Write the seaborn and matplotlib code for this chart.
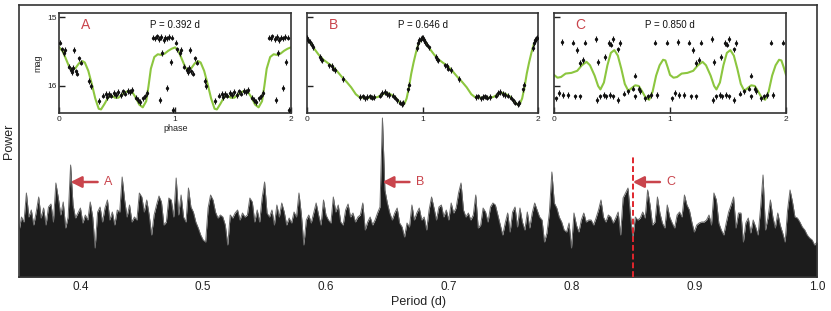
import numpy as np
import pandas as pd
import matplotlib
matplotlib.use("Agg")
import matplotlib.pyplot as plt
import seaborn as sns

sns.set_theme(style="white")
plt.rcParams["font.family"] = ["Liberation Sans", "DejaVu Sans"]

# ---------------- periodogram (power in arbitrary units) ----------------
period_start = 0.35
period_step = 0.002
power_seg1 = [46, 60, 55, 84, 60, 67, 52, 65, 80, 59, 69, 52, 70, 73, 55, 94, 79, 62, 75, 49,
              60, 112, 72, 59, 64, 69, 54, 62, 57, 75, 60, 29, 65, 70, 55, 69, 77, 57, 65, 52,
              67, 65, 100, 77, 60, 72, 55]
power_seg2 = [60, 57, 84, 80, 65, 77, 62, 42, 62, 72, 81, 75, 52, 55, 79, 77, 60, 99, 62, 82,
              60, 55, 89, 70, 65, 55, 49, 42, 37, 35, 69, 82, 77, 65, 59, 62, 60, 52, 32, 62,
              59, 64, 67, 57, 64, 60, 62]
power_seg3 = [79, 75, 55, 67, 55, 79, 95, 64, 60, 67, 52, 72, 60, 74, 65, 52, 59, 54, 65, 60,
              84, 62, 32, 57, 62, 54, 64, 74, 62, 52, 77, 62, 57, 54, 80, 65, 72, 55, 52, 67,
              73, 60, 64, 55, 60, 62]
power_seg4 = [74, 47, 55, 60, 52, 57, 64, 70, 159, 87, 74, 64, 57, 64, 69, 54, 50, 40, 54, 50,
              72, 57, 64, 69, 57, 60, 47, 67, 80, 69, 57, 70, 72, 60, 67, 57, 74, 64, 69, 84,
              94, 67, 60, 64, 57, 62, 82]
power_seg5 = [49, 52, 69, 65, 55, 70, 74, 72, 62, 52, 42, 54, 64, 45, 65, 70, 50, 69, 55, 47,
              65, 49, 64, 74, 67, 60, 57, 35, 44, 65, 105, 74, 69, 60, 55, 47, 45, 54, 29, 64,
              52, 45, 57, 64, 55, 57]
power_seg6 = [57, 52, 59, 67, 77, 60, 55, 62, 60, 54, 59, 65, 42, 79, 84, 89, 62, 39, 60, 57,
              59, 65, 59, 87, 72, 52, 55, 80, 64, 54, 49, 72, 60, 54, 49, 62, 65, 60, 82, 72,
              67, 55, 45, 52, 54, 55]
power_seg7 = [55, 57, 62, 52, 84, 77, 54, 47, 42, 54, 65, 72, 80, 49, 64, 64, 35, 54, 59, 44,
              57, 50, 42, 69, 102, 47, 59, 77, 60, 49, 64, 52, 44, 35, 67, 87, 75, 60, 59, 55,
              50, 47, 42, 39, 37, 32, 35]
power = (power_seg1 + power_seg2 + power_seg3 + power_seg4 + power_seg5
         + power_seg6 + power_seg7)
period = np.round(period_start + period_step * np.arange(len(power)), 3)

x_ticks = [0.4, 0.5, 0.6, 0.7, 0.8, 0.9, 1.0]
x_ticklabels = ["0.4", "0.5", "0.6", "0.7", "0.8", "0.9", "1.0"]

marked_periods = [0.392, 0.646, 0.850]
marked_labels = ["A", "B", "C"]
marked_titles = ["P = 0.392 d", "P = 0.646 d", "P = 0.850 d"]

# ---------------- folded light curves (phase 0-1, shown twice) ----------------
a_phase = [0.01, 0.02, 0.04, 0.05, 0.08, 0.10, 0.11, 0.12, 0.13, 0.14, 0.15, 0.17, 0.19,
           0.26, 0.27, 0.34, 0.38, 0.40, 0.41, 0.43, 0.45, 0.47, 0.49, 0.51, 0.53, 0.55,
           0.57, 0.59, 0.61, 0.63, 0.66, 0.68, 0.70, 0.72, 0.74, 0.76, 0.81, 0.83, 0.84,
           0.86, 0.87, 0.88, 0.89, 0.90, 0.91, 0.93, 0.93, 0.95, 0.96, 0.97, 0.985]
a_mag = [15.37, 15.47, 15.52, 15.48, 15.72, 15.77, 15.80, 15.74, 15.48, 15.79, 15.82, 15.60,
         15.66, 15.93, 16.00, 16.22, 16.14, 16.11, 16.16, 16.12, 16.14, 16.10, 16.13, 16.09,
         16.13, 16.08, 16.11, 16.07, 16.09, 16.06, 16.17, 16.20, 16.23, 16.18, 16.15, 16.10,
         15.30, 15.31, 15.28, 15.32, 16.20, 15.29, 15.52, 15.33, 15.30, 15.31, 16.03, 15.29,
         15.65, 15.30, 16.35]
a_fit_phase = [0.00, 0.03, 0.06, 0.09, 0.11, 0.14, 0.17, 0.20, 0.22, 0.25, 0.28, 0.31, 0.34,
               0.36, 0.39, 0.42, 0.45, 0.48, 0.51, 0.54, 0.57, 0.60, 0.63, 0.66, 0.69, 0.72,
               0.75, 0.77, 0.79, 0.82, 0.85, 0.88, 0.91, 0.94, 0.97, 1.00]
a_fit_mag = [15.44, 15.50, 15.62, 15.74, 15.77, 15.74, 15.67, 15.64, 15.66, 15.78, 15.97,
             16.18, 16.33, 16.34, 16.26, 16.17, 16.14, 16.17, 16.17, 16.13, 16.09, 16.07,
             16.09, 16.17, 16.27, 16.31, 16.22, 16.00, 15.75, 15.58, 15.54, 15.55, 15.53,
             15.49, 15.46, 15.44]

b_phase = [0.00, 0.01, 0.02, 0.04, 0.05, 0.11, 0.12, 0.13, 0.19, 0.21, 0.22, 0.24, 0.31,
           0.46, 0.48, 0.50, 0.52, 0.54, 0.56, 0.58, 0.63, 0.65, 0.67, 0.69, 0.71, 0.74,
           0.76, 0.78, 0.80, 0.82, 0.83, 0.87, 0.88, 0.95, 0.96, 0.97, 0.98, 0.99]
b_mag = [15.30, 15.34, 15.36, 15.40, 15.44, 15.58, 15.61, 15.63, 15.70, 15.71, 15.75, 15.77,
         15.90, 16.16, 16.15, 16.18, 16.16, 16.15, 16.17, 16.16, 16.14, 16.10, 16.09, 16.12,
         16.13, 16.14, 16.17, 16.21, 16.24, 16.26, 16.25, 16.05, 15.98, 15.45, 15.38, 15.33,
         15.32, 15.30]
b_fit_phase = [0.00, 0.03, 0.06, 0.10, 0.14, 0.18, 0.22, 0.26, 0.30, 0.34, 0.38, 0.42, 0.45,
               0.49, 0.53, 0.57, 0.61, 0.65, 0.69, 0.72, 0.76, 0.79, 0.82, 0.84, 0.86, 0.88,
               0.90, 0.92, 0.94, 0.96, 0.98, 1.00]
b_fit_mag = [15.31, 15.38, 15.46, 15.55, 15.62, 15.67, 15.72, 15.79, 15.87, 15.94, 16.02,
             16.12, 16.16, 16.17, 16.17, 16.17, 16.16, 16.12, 16.10, 16.12, 16.16, 16.22,
             16.27, 16.26, 16.18, 16.02, 15.82, 15.66, 15.52, 15.40, 15.33, 15.31]

c_phase = [0.066, 0.16, 0.267, 0.195, 0.36, 0.47, 0.49, 0.51, 0.57, 0.38, 0.44, 0.22, 0.04,
           0.08, 0.12, 0.18, 0.22, 0.02, 0.37, 0.40, 0.43, 0.45, 0.48, 0.51, 0.55, 0.60,
           0.64, 0.68, 0.70, 0.74, 0.78, 0.81, 0.84, 0.885, 0.70, 0.87, 0.977, 0.55, 0.25,
           0.73]
c_mag = [15.36, 15.37, 15.37, 15.48, 15.32, 15.38, 15.40, 15.32, 15.38, 15.65, 15.58, 15.67,
         16.10, 16.13, 16.13, 16.15, 16.15, 16.18, 16.20, 16.15, 16.13, 16.15, 16.13, 16.15,
         16.20, 16.11, 16.08, 16.04, 16.15, 16.08, 16.18, 16.15, 16.13, 16.13, 15.85, 15.37,
         15.37, 15.47, 15.62, 16.04]
c_fit_phase = [0.00, 0.03, 0.06, 0.10, 0.15, 0.20, 0.24, 0.28, 0.31, 0.35, 0.38, 0.40, 0.43,
               0.46, 0.49, 0.52, 0.55, 0.58, 0.61, 0.64, 0.67, 0.70, 0.73, 0.76, 0.79, 0.82,
               0.85, 0.88, 0.91, 0.94, 0.96, 0.98, 1.00]
c_fit_mag = [15.84, 15.88, 15.87, 15.82, 15.81, 15.78, 15.70, 15.65, 15.70, 15.85, 16.00,
             16.05, 15.95, 15.70, 15.52, 15.48, 15.56, 15.75, 15.97, 16.07, 16.03, 15.99,
             16.00, 16.08, 16.17, 16.20, 16.08, 15.85, 15.70, 15.62, 15.63, 15.73, 15.84]

RED = "#c9444c"
RED_LINE = "#e0262d"
GREEN = "#8cc63f"
DARK = "#1c1c1c"

fig = plt.figure(figsize=(8.31, 3.11), dpi=100)

# ---------------- main periodogram ----------------
ax = fig.add_axes([0.0229, 0.1093, 0.9603, 0.8746])
df = pd.DataFrame({"period": period, "power": power})
ax.fill_between(df["period"], 0, df["power"], color=DARK, lw=0, zorder=1)
sns.lineplot(data=df, x="period", y="power", ax=ax, color="#6a6a6a", lw=0.7, zorder=2)
ax.set_xlim(0.35, 1.0)
ax.set_ylim(0, 272)
ax.set_yticks([])
ax.set_xticks(x_ticks)
ax.set_xticklabels(x_ticklabels)
ax.tick_params(axis="x", length=0, labelsize=8.5, pad=3, colors="#222222")
ax.set_xlabel("Period (d)", fontsize=9, labelpad=2, color="#222222")
ax.set_ylabel("Power", fontsize=9, labelpad=3, color="#222222")
for s in ax.spines.values():
    s.set_visible(True)
    s.set_color("#333333")
    s.set_linewidth(1.2)

arrow_y = 95
for p, lab in zip(marked_periods, marked_labels):
    ax.annotate("", xy=(p, arrow_y), xytext=(p + 0.022, arrow_y),
                arrowprops=dict(arrowstyle="-|>,head_length=0.55,head_width=0.28",
                                color=RED, lw=1.8, shrinkA=0, shrinkB=0), zorder=5)
    ax.text(p + 0.031, arrow_y, lab, color=RED, fontsize=9, ha="center", va="center")

ax.plot([marked_periods[2], marked_periods[2]], [0, 122], color=RED_LINE, lw=1.4,
        ls=(0, (3, 1.5)), zorder=4)

# ---------------- insets ----------------
inset_rects = [[0.0714, 0.6357, 0.2788, 0.3225],
               [0.3698, 0.6357, 0.2780, 0.3225],
               [0.6667, 0.6357, 0.2792, 0.3225]]
curves = [(a_phase, a_mag, a_fit_phase, a_fit_mag),
          (b_phase, b_mag, b_fit_phase, b_fit_mag),
          (c_phase, c_mag, c_fit_phase, c_fit_mag)]

for idx, (rect, (ph, mg, fph, fmg)) in enumerate(zip(inset_rects, curves)):
    iax = fig.add_axes(rect)
    iax.set_facecolor("white")
    fit_df = pd.DataFrame({"phase": list(fph) + [p + 1 for p in fph[1:]],
                           "mag": list(fmg) + list(fmg[1:])})
    pts_df = pd.DataFrame({"phase": list(ph) + [p + 1 for p in ph],
                           "mag": list(mg) + list(mg)})
    sns.lineplot(data=fit_df, x="phase", y="mag", ax=iax, color=GREEN, lw=1.5,
                 sort=False, zorder=2)
    iax.errorbar(pts_df["phase"], pts_df["mag"], yerr=0.04, fmt="o", ms=1.4,
                 color="#111111", elinewidth=0.8, capsize=0, zorder=3)
    iax.set_xlim(0, 2)
    iax.set_ylim(16.396, 14.942)
    iax.set_xticks([0, 1, 2])
    iax.set_xticklabels(["0", "1", "2"])
    iax.set_yticks([15, 16])
    iax.tick_params(direction="in", length=4, width=1, labelsize=6, pad=2,
                    colors="#222222", bottom=True, left=True)
    if idx == 0:
        iax.set_yticklabels(["15", "16"])
        iax.set_xlabel("phase", fontsize=6.5, labelpad=1, color="#222222")
        iax.set_ylabel("mag", fontsize=6.5, labelpad=3, color="#222222")
    else:
        iax.set_yticklabels([])
        iax.set_xlabel("")
        iax.set_ylabel("")
    for s in iax.spines.values():
        s.set_visible(True)
        s.set_color("#333333")
        s.set_linewidth(1.2)
    iax.text(0.115, 0.885, marked_labels[idx], transform=iax.transAxes, color=RED,
             fontsize=10, ha="center", va="center")
    iax.text(0.5, 0.885, marked_titles[idx], transform=iax.transAxes, color="#111111",
             fontsize=7, ha="center", va="center")

fig.savefig("out.png", dpi=100)
